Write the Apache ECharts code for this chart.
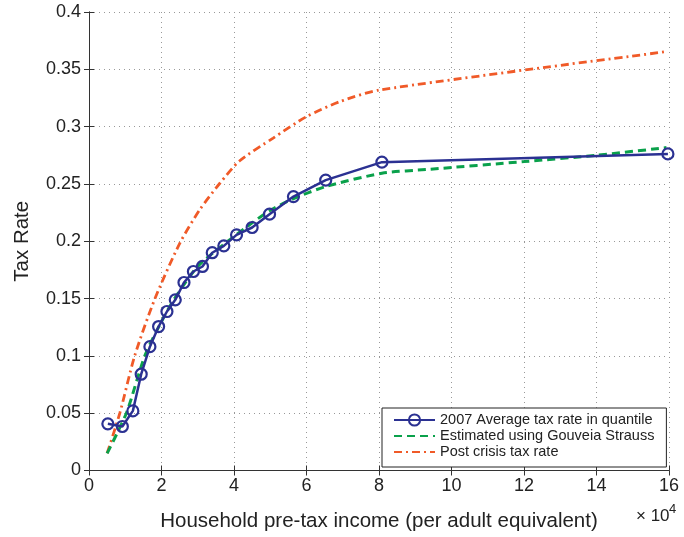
<!DOCTYPE html>
<html>
<head>
<meta charset="utf-8">
<script src="https://cdn.jsdelivr.net/npm/echarts@6/dist/echarts.min.js"></script>
<style>
html,body{margin:0;padding:0;background:#fff;}
#chart{width:684px;height:537px;}
</style>
</head>
<body>
<div id="chart"></div>
<script>
// Data (x in units of 10^4)
const avgX = [0.52,0.92,1.21,1.44,1.68,1.92,2.15,2.38,2.62,2.88,3.13,3.40,3.72,4.07,4.50,4.98,5.64,6.53,8.08,15.97];
const avgY = [0.0407,0.0384,0.052,0.084,0.108,0.1256,0.1387,0.1489,0.164,0.1736,0.178,0.190,0.196,0.2056,0.212,0.2236,0.239,0.2533,0.269,0.2762];
const gsX = [0.5,1.03,1.54,2.0,2.36,3.0,3.83,4.5,5.0,5.63,6.53,8.08,9.4,12,14,15.93];
const gsY = [0.015,0.05,0.1,0.13,0.15,0.178,0.2,0.216,0.227,0.237,0.2477,0.2593,0.2628,0.2695,0.275,0.2817];
const postX = [0.5,0.85,1.26,1.82,2.5,3.05,3.61,4.15,5.08,6.0,6.92,8.02,15.93];
const postY = [0.015,0.05,0.1,0.15,0.198,0.2273,0.2506,0.270,0.290,0.3087,0.3218,0.332,0.3654];
const seriesNames = ['2007 Average tax rate in quantile','Estimated using Gouveia Strauss','Post crisis tax rate'];
const xTicks = {min:0, max:16, interval:2};
const yTicks = {min:0, max:0.4, interval:0.05};

const zip = (a,b) => a.map((v,i)=>[v,b[i]]);
const FONT = 'Liberation Sans, Arial, sans-serif';
const AX = '#333';
const BLUE = '#2b3192', GREEN = '#0aa14b', ORANGE = '#f05a28';

const chart = echarts.init(document.getElementById('chart'));
const baseAxis = {
  axisLine:{show:true, lineStyle:{color:AX, width:1}},
  axisTick:{show:true, inside:true, length:5, lineStyle:{color:AX}},
};
chart.setOption({
  animation:false,
  textStyle:{fontFamily:FONT},
  grid:{left:89, top:12, width:580, height:458.5, containLabel:false},
  xAxis:[
    Object.assign({type:'value', position:'bottom', min:xTicks.min, max:xTicks.max, interval:xTicks.interval,
      name:'Household pre-tax income (per adult equivalent)', nameLocation:'middle', nameGap:40,
      nameTextStyle:{fontSize:20.5, color:'#222', fontFamily:FONT},
      axisLabel:{fontSize:18, color:'#222', margin:7, fontFamily:FONT},
      splitLine:{show:true, lineStyle:{color:'#999', type:[1,4], width:1}}}, baseAxis),
    Object.assign({type:'value', position:'top', min:xTicks.min, max:xTicks.max, interval:xTicks.interval,
      axisLabel:{show:false}, splitLine:{show:false}}, baseAxis)
  ],
  yAxis:[
    Object.assign({type:'value', position:'left', min:yTicks.min, max:yTicks.max, interval:yTicks.interval,
      name:'Tax Rate', nameLocation:'middle', nameGap:56,
      nameTextStyle:{fontSize:20.5, color:'#222', fontFamily:FONT},
      axisLabel:{fontSize:18, color:'#222', margin:8, fontFamily:FONT},
      splitLine:{show:true, lineStyle:{color:'#999', type:[1,4], width:1}}}, baseAxis),
    Object.assign({type:'value', position:'right', min:yTicks.min, max:yTicks.max, interval:yTicks.interval,
      axisLabel:{show:false}, splitLine:{show:false}}, baseAxis)
  ],
  legend:{
    orient:'vertical', left:382, top:408,
    backgroundColor:'#fff', borderColor:'#222', borderWidth:1, borderRadius:0,
    padding:[4,12,7,11], itemGap:0, itemWidth:41, itemHeight:14,
    textStyle:{fontSize:14.5, color:'#222', fontFamily:FONT, lineHeight:16},
    data:[
      {name:seriesNames[0]},
      {name:seriesNames[1], itemStyle:{opacity:0}},
      {name:seriesNames[2], itemStyle:{opacity:0}}
    ]
  },
  series:[
    {name:seriesNames[0], type:'line', data:zip(avgX,avgY), z:5,
      symbol:'circle', symbolSize:11, showSymbol:true,
      lineStyle:{color:BLUE, width:2.5},
      itemStyle:{color:'rgba(255,255,255,0)', borderColor:BLUE, borderWidth:2.2}},
    {name:seriesNames[1], type:'line', data:zip(gsX,gsY), z:4,
      smooth:0.25, showSymbol:false, symbol:'none',
      lineStyle:{color:GREEN, width:3, type:[8,5]}, itemStyle:{color:GREEN}},
    {name:seriesNames[2], type:'line', data:zip(postX,postY), z:3,
      smooth:0.25, showSymbol:false, symbol:'none',
      lineStyle:{color:ORANGE, width:2.8, type:[8,4,2,4]}, itemStyle:{color:ORANGE}}
  ],
  graphic:[
    {type:'text', left:636, top:508, style:{text:'× 10', fontSize:17, fill:'#222', fontFamily:FONT}},
    {type:'text', left:669, top:503, style:{text:'4', fontSize:13, fill:'#222', fontFamily:FONT}}
  ]
});
</script>
</body>
</html>
